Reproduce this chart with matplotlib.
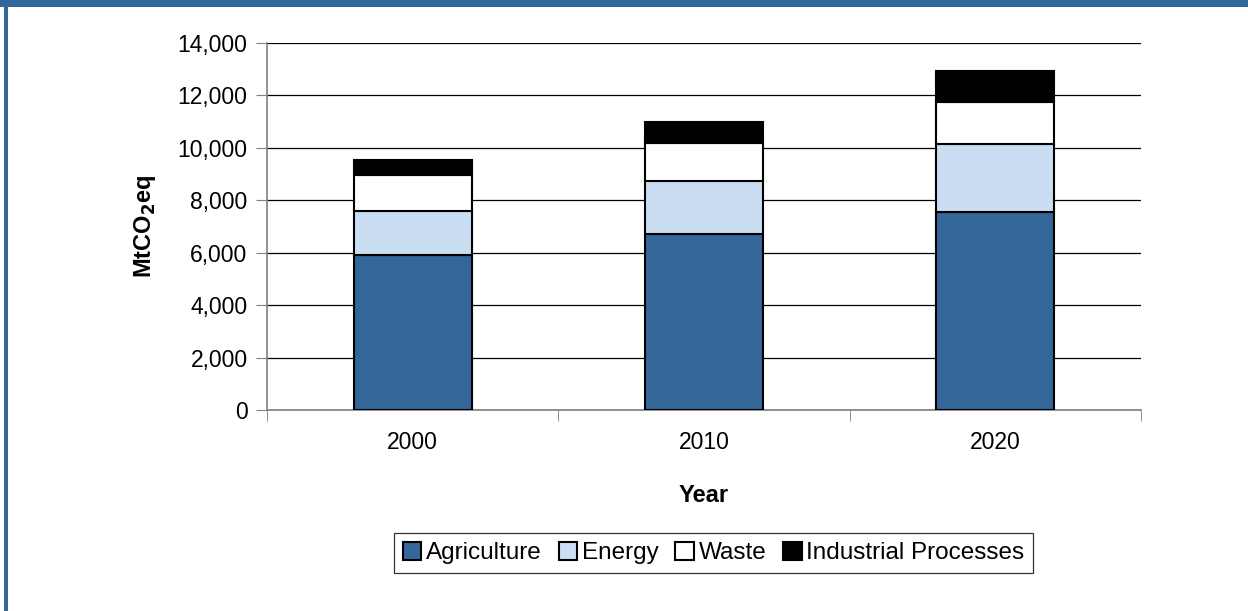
import numpy as np
import matplotlib
matplotlib.use("Agg")
import matplotlib.pyplot as plt
from matplotlib.patches import Rectangle

plt.rcParams['font.family'] = ['Liberation Sans', 'DejaVu Sans']

# Data
years = ["2000", "2010", "2020"]
agriculture = [5900, 6700, 7550]
energy = [1700, 2050, 2600]
waste = [1350, 1430, 1600]
industrial = [580, 820, 1170]

series = [
    ("Agriculture", agriculture, "#336699"),
    ("Energy", energy, "#cadef3"),
    ("Waste", waste, "#ffffff"),
    ("Industrial Processes", industrial, "#000000"),
]

fig = plt.figure(figsize=(12.48, 6.11), dpi=100)
ax = fig.add_axes([267 / 1248, 1 - 410 / 611, 874 / 1248, 367 / 611])

# blue frame around the chart area
fig.patches.append(Rectangle((0, 1 - 7 / 611), 1, 7 / 611, transform=fig.transFigure,
                             facecolor="#336699", edgecolor="none", zorder=0))
fig.patches.append(Rectangle((4 / 1248, 0), 4 / 1248, 1, transform=fig.transFigure,
                             facecolor="#336699", edgecolor="none", zorder=0))

x = np.arange(len(years))
bottom = np.zeros(len(years))
for name, vals, color in series:
    ax.bar(x, vals, width=0.405, bottom=bottom, color=color, edgecolor="black",
           linewidth=1.5, label=name, zorder=3)
    bottom += np.array(vals)

ax.set_xlim(-0.5, len(years) - 0.5)
ax.set_ylim(0, 14000)
ax.set_yticks(np.arange(0, 14001, 2000))
ax.set_yticklabels([f"{v:,}" for v in range(0, 14001, 2000)])
ax.set_xticks(x)
ax.set_xticklabels(years)
ax.set_xticks(np.arange(-0.5, len(years), 1), minor=True)

ax.yaxis.grid(True, color="black", linewidth=0.9, zorder=0)
ax.set_axisbelow(True)
for side in ["top", "right"]:
    ax.spines[side].set_visible(False)
for side in ["left", "bottom"]:
    ax.spines[side].set_color("#808080")
    ax.spines[side].set_linewidth(1.2)

ax.tick_params(axis="y", which="major", length=8, color="#808080", labelsize=16.5, pad=6)
ax.tick_params(axis="x", which="major", length=0, labelsize=16.5, pad=15)
ax.tick_params(axis="x", which="minor", length=8, color="#808080")

ax.set_xlabel("Year", fontsize=17, fontweight="bold", labelpad=22)
ax.set_ylabel("MtCO$_\\mathbf{2}$eq", fontsize=17, fontweight="bold", labelpad=14)

leg = ax.legend(loc="upper center", bbox_to_anchor=(0.511, -0.336), ncol=4,
                frameon=True, fancybox=False, edgecolor="black", fontsize=17.5,
                handlelength=0.75, handleheight=0.75, handletextpad=0.2,
                columnspacing=0.7, borderpad=0.35, borderaxespad=0)
leg.get_frame().set_linewidth(0.9)

fig.savefig("out.png", dpi=100)
